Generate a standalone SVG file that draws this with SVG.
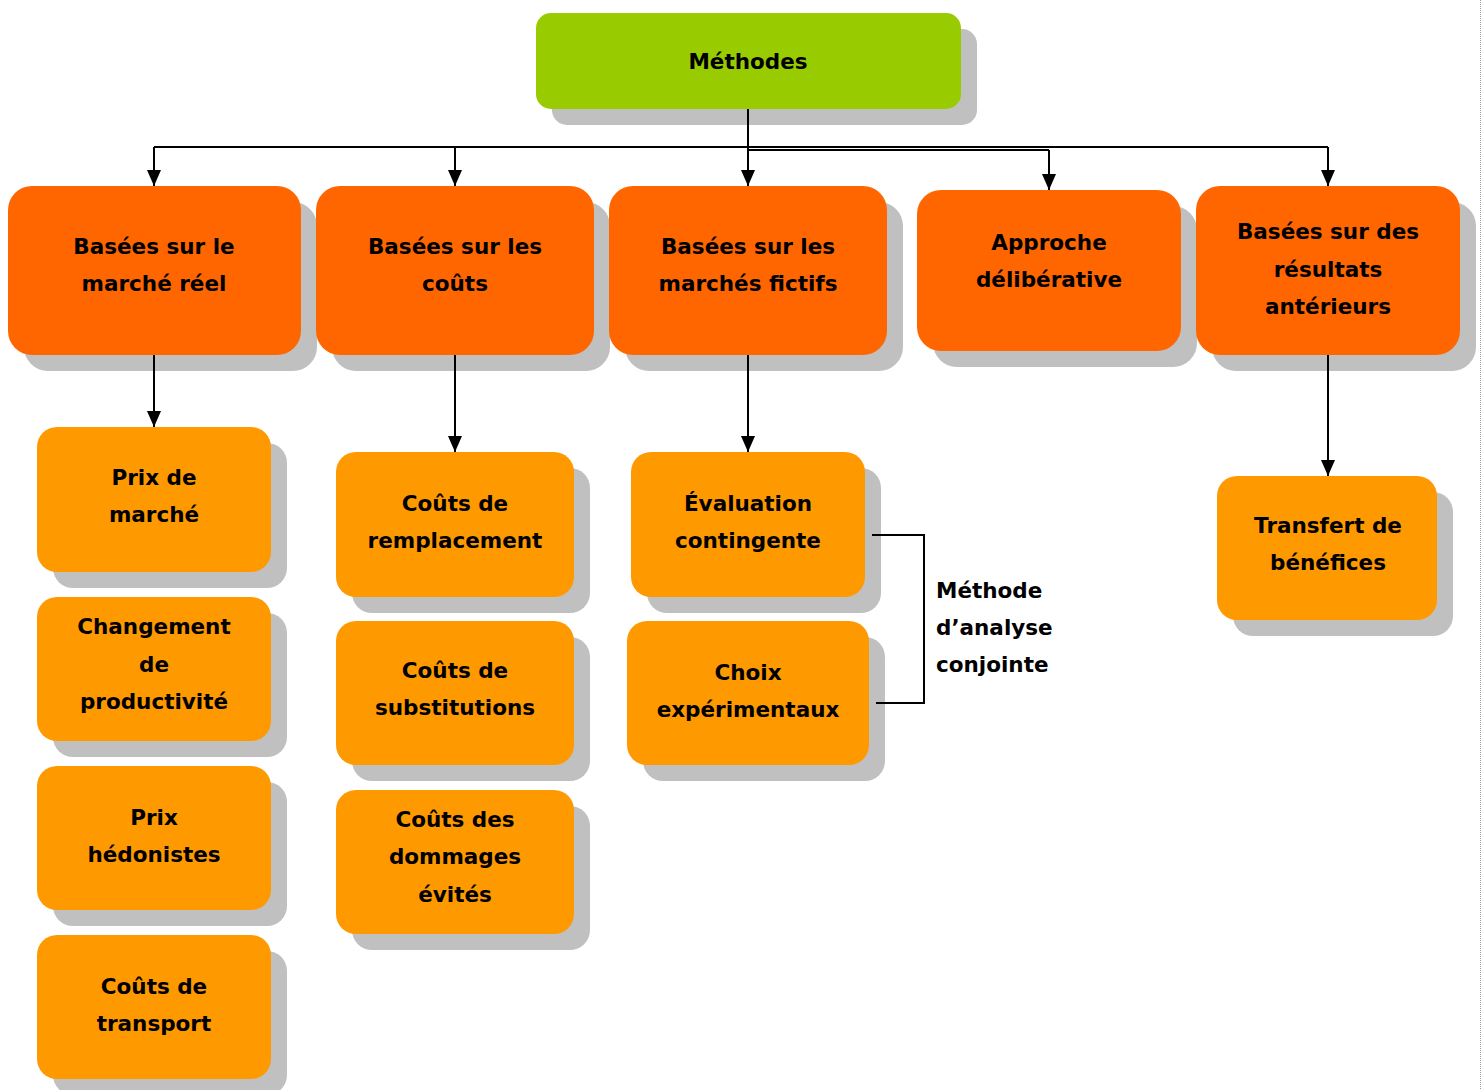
<svg xmlns="http://www.w3.org/2000/svg" width="1483" height="1090" viewBox="0 0 1483 1090">
<defs>
<marker id="arr" markerUnits="userSpaceOnUse" markerWidth="16" markerHeight="14" viewBox="0 0 16 14" refX="16" refY="7" orient="auto">
<path d="M0,0 L16,7 L0,14 Z" fill="#000"/>
</marker>
</defs>
<style>
.sh{fill:#C0C0C0}
.g{fill:#99CC00}
.o{fill:#FF6600}
.y{fill:#FF9900}
text{font-family:"DejaVu Sans","Liberation Sans",sans-serif;font-weight:bold;font-size:21.5px;fill:#000;text-anchor:middle}
.l{text-anchor:start}
.c{fill:none;stroke:#000;stroke-width:2}
</style>
<rect width="1483" height="1090" fill="#fff"/>
<line x1="1480.5" y1="0" x2="1480.5" y2="1090" stroke="#9a9a9a" stroke-width="1" stroke-dasharray="1,1"/>

<g id="methodes">
<rect class="sh" x="552" y="29" width="425" height="96" rx="15"/>
<rect class="g" x="536" y="13" width="425" height="96" rx="15"/>
<text x="748" y="69">Méthodes</text>
</g>

<g id="marche-reel">
<rect class="sh" x="24" y="202" width="293" height="169" rx="24"/>
<rect class="o" x="8" y="186" width="293" height="169" rx="24"/>
<text x="154" y="254">Basées sur le</text>
<text x="154" y="291">marché réel</text>
</g>
<g id="couts">
<rect class="sh" x="332" y="202" width="278" height="169" rx="24"/>
<rect class="o" x="316" y="186" width="278" height="169" rx="24"/>
<text x="455" y="254">Basées sur les</text>
<text x="455" y="291">coûts</text>
</g>
<g id="marches-fictifs">
<rect class="sh" x="625" y="202" width="278" height="169" rx="24"/>
<rect class="o" x="609" y="186" width="278" height="169" rx="24"/>
<text x="748" y="254">Basées sur les</text>
<text x="748" y="291">marchés fictifs</text>
</g>
<g id="deliberative">
<rect class="sh" x="933" y="206" width="264" height="161" rx="24"/>
<rect class="o" x="917" y="190" width="264" height="161" rx="24"/>
<text x="1049" y="250">Approche</text>
<text x="1049" y="287">délibérative</text>
</g>
<g id="resultats">
<rect class="sh" x="1212" y="202" width="264" height="169" rx="24"/>
<rect class="o" x="1196" y="186" width="264" height="169" rx="24"/>
<text x="1328" y="239">Basées sur des</text>
<text x="1328" y="277">résultats</text>
<text x="1328" y="314">antérieurs</text>
</g>

<g id="prix-marche">
<rect class="sh" x="53" y="443" width="234" height="145" rx="20"/>
<rect class="y" x="37" y="427" width="234" height="145" rx="20"/>
<text x="154" y="485">Prix de</text>
<text x="154" y="522">marché</text>
</g>
<g id="productivite">
<rect class="sh" x="53" y="613" width="234" height="144" rx="20"/>
<rect class="y" x="37" y="597" width="234" height="144" rx="20"/>
<text x="154" y="634">Changement</text>
<text x="154" y="672">de</text>
<text x="154" y="709">productivité</text>
</g>
<g id="hedonistes">
<rect class="sh" x="53" y="782" width="234" height="144" rx="20"/>
<rect class="y" x="37" y="766" width="234" height="144" rx="20"/>
<text x="154" y="825">Prix</text>
<text x="154" y="862">hédonistes</text>
</g>
<g id="transport">
<rect class="sh" x="53" y="951" width="234" height="144" rx="20"/>
<rect class="y" x="37" y="935" width="234" height="144" rx="20"/>
<text x="154" y="994">Coûts de</text>
<text x="154" y="1031">transport</text>
</g>

<g id="remplacement">
<rect class="sh" x="352" y="468" width="238" height="145" rx="20"/>
<rect class="y" x="336" y="452" width="238" height="145" rx="20"/>
<text x="455" y="511">Coûts de</text>
<text x="455" y="548">remplacement</text>
</g>
<g id="substitutions">
<rect class="sh" x="352" y="637" width="238" height="144" rx="20"/>
<rect class="y" x="336" y="621" width="238" height="144" rx="20"/>
<text x="455" y="678">Coûts de</text>
<text x="455" y="715">substitutions</text>
</g>
<g id="dommages">
<rect class="sh" x="352" y="806" width="238" height="144" rx="20"/>
<rect class="y" x="336" y="790" width="238" height="144" rx="20"/>
<text x="455" y="827">Coûts des</text>
<text x="455" y="864">dommages</text>
<text x="455" y="902">évités</text>
</g>

<g id="contingente">
<rect class="sh" x="647" y="468" width="234" height="145" rx="20"/>
<rect class="y" x="631" y="452" width="234" height="145" rx="20"/>
<text x="748" y="511">Évaluation</text>
<text x="748" y="548">contingente</text>
</g>
<g id="choix">
<rect class="sh" x="643" y="637" width="242" height="144" rx="20"/>
<rect class="y" x="627" y="621" width="242" height="144" rx="20"/>
<text x="748" y="680">Choix</text>
<text x="748" y="717">expérimentaux</text>
</g>

<g id="transfert">
<rect class="sh" x="1233" y="492" width="220" height="144" rx="20"/>
<rect class="y" x="1217" y="476" width="220" height="144" rx="20"/>
<text x="1328" y="533">Transfert de</text>
<text x="1328" y="570">bénéfices</text>
</g>

<g id="analyse-conjointe">
<text class="l" x="936" y="598">Méthode</text>
<text class="l" x="936" y="635">d’analyse</text>
<text class="l" x="936" y="672">conjointe</text>
</g>

<g id="connectors">
<line class="c" x1="154" y1="147" x2="1328" y2="147"/>
<line class="c" x1="748" y1="150" x2="1049" y2="150"/>
<line class="c" x1="748" y1="109" x2="748" y2="186" marker-end="url(#arr)"/>
<line class="c" x1="154" y1="147" x2="154" y2="186" marker-end="url(#arr)"/>
<line class="c" x1="455" y1="147" x2="455" y2="186" marker-end="url(#arr)"/>
<line class="c" x1="1049" y1="150" x2="1049" y2="190" marker-end="url(#arr)"/>
<line class="c" x1="1328" y1="147" x2="1328" y2="186" marker-end="url(#arr)"/>
<line class="c" x1="154" y1="355" x2="154" y2="427" marker-end="url(#arr)"/>
<line class="c" x1="455" y1="355" x2="455" y2="452" marker-end="url(#arr)"/>
<line class="c" x1="748" y1="355" x2="748" y2="452" marker-end="url(#arr)"/>
<line class="c" x1="1328" y1="355" x2="1328" y2="476" marker-end="url(#arr)"/>
<polyline class="c" points="872,535 924,535 924,703 876,703"/>
</g>
</svg>
